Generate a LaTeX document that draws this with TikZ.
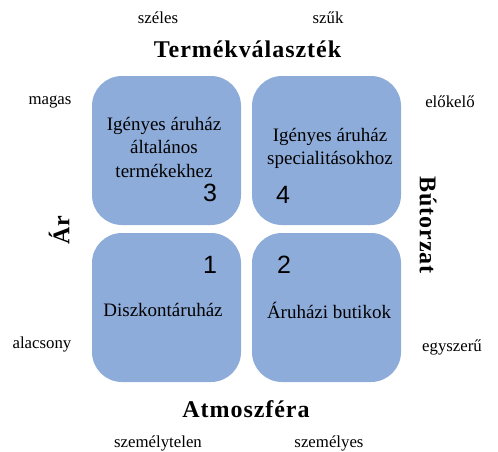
\documentclass[tikz,border=0pt]{standalone}
\usepackage{fontspec}
\setmainfont{Liberation Serif}
\newfontfamily\numfont{Liberation Sans}
\definecolor{boxblue}{RGB}{142,172,218}
\tikzset{
  quad/.style={draw=none, fill=boxblue, rounded corners=30pt, minimum width=149pt, minimum height=149pt, inner sep=0pt},
  boxtext/.style={font=\fontsize{19}{23.5}\selectfont, align=center, inner sep=0pt},
  numlab/.style={font=\numfont\fontsize{25}{25}\selectfont, inner sep=0pt},
  small/.style={font=\fontsize{16.8}{18}\selectfont, inner sep=0pt},
  axis/.style={font=\addfontfeature{LetterSpace=4}\bfseries\fontsize{24}{26}\selectfont, inner sep=0pt}
}
\begin{document}
\begin{tikzpicture}[x=1pt,y=-1pt]
\useasboundingbox (0,0) rectangle (498,451);
\node[quad] (q3) at (166.5,150.5) {};
\node[quad] (q4) at (326.5,150.5) {};
\node[quad] (q1) at (166.5,307.5) {};
\node[quad] (q2) at (326.5,307.5) {};
\node[boxtext] (t3) at (164,147) {Igényes áruház\\általános\\termékekhez};
\node[boxtext] (t4) at (330,148.5) {Igényes áruház\\specialitásokhoz};
\node[boxtext] (t1) at (163,310) {Diszkontáruház};
\node[boxtext] (t2) at (329,310) {Áruházi butikok};
\node[numlab] (n3) at (210,193) {3};
\node[numlab] (n4) at (283,195) {4};
\node[numlab] (n1) at (210,265) {1};
\node[numlab] (n2) at (284,265) {2};
\node[axis] (top) at (247.5,49) {Termékválaszték};
\node[axis] (bottom) at (246,409) {Atmoszféra};
\node[axis, rotate=90] (left) at (59,230) {Ár};
\node[axis, rotate=-90] (right) at (428,225) {Bútorzat};
\node[small] (s1) at (158,18) {széles};
\node[small] (s2) at (328,18) {szűk};
\node[small] (s3) at (50,102) {magas};
\node[small] (s4) at (42,344) {alacsony};
\node[small] (s5) at (450,102) {előkelő};
\node[small] (s6) at (452,347) {egyszerű};
\node[small] (s7) at (158,443) {személytelen};
\node[small] (s8) at (329,443) {személyes};
\end{tikzpicture}
\end{document}
